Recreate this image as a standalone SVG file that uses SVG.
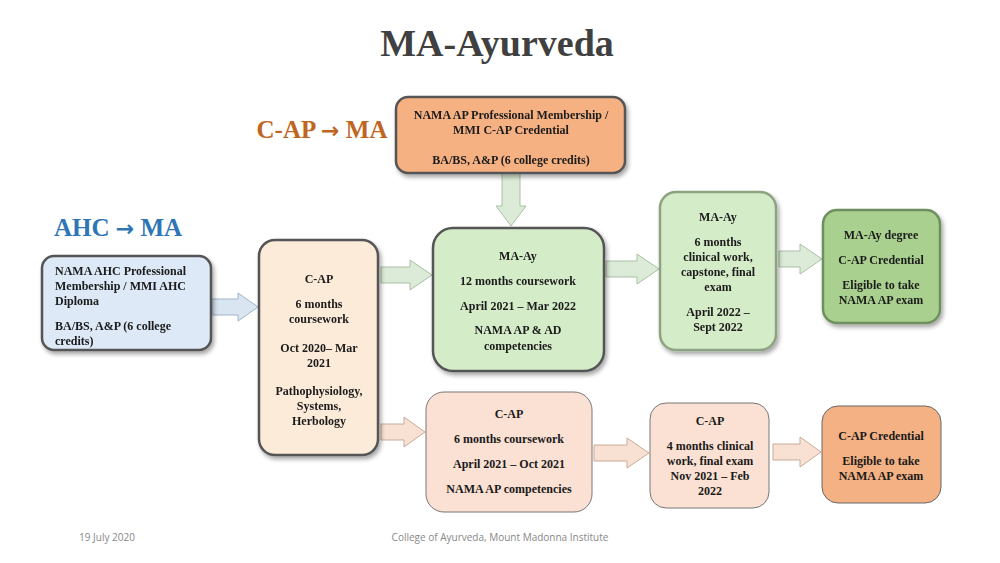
<svg xmlns="http://www.w3.org/2000/svg" width="1000" height="563" viewBox="0 0 1000 563">
<defs>
<style>
.t{font-family:"Liberation Serif",serif;font-weight:bold;font-size:12px;fill:#1a1a1a;text-anchor:middle}
.n{stroke:#555;stroke-width:2.5}
.ar{stroke-width:1}
.arw{font-family:"DejaVu Sans",sans-serif;font-weight:bold}
</style>
<filter id="sh" x="-10%" y="-10%" width="130%" height="130%"><feDropShadow dx="2" dy="3" stdDeviation="2" flood-color="#000" flood-opacity="0.35"/></filter>
</defs>
<rect width="1000" height="563" fill="#fff"/>
<text x="497" y="56" style="font-family:'Liberation Serif',serif;font-weight:bold;font-size:38px;fill:#404040;text-anchor:middle">MA-Ayurveda</text>
<text x="322" y="138" style="font-family:'Liberation Serif',serif;font-weight:bold;font-size:25px;fill:#c0651f;text-anchor:middle">C-AP <tspan class="arw" font-size="22">→</tspan> MA</text>
<text x="118" y="236" style="font-family:'Liberation Serif',serif;font-weight:bold;font-size:25px;fill:#2e75b6;text-anchor:middle">AHC <tspan class="arw" font-size="22">→</tspan> MA</text>

<g id="connectors" class="ar">
<polygon points="212,299 238,299 238,293 258,307 238,321 238,315 212,315" fill="#d9e6f2" stroke="#9fb4c8"/>
<polygon points="381,267 410,267 410,260 432,275 410,290 410,283 381,283" fill="#dcebd8" stroke="#a9c0a2"/>
<polygon points="502,173 520,173 520,206 526,206 511,226 496,206 502,206" fill="#dcebd8" stroke="#a9c0a2"/>
<polygon points="606,261 637,261 637,254 659,269 637,284 637,277 606,277" fill="#dcebd8" stroke="#a9c0a2"/>
<polygon points="779,251 800,251 800,244 822,259 800,274 800,267 779,267" fill="#dcebd8" stroke="#a9c0a2"/>
<polygon points="381,424 404,424 404,417 425,432 404,447 404,440 381,440" fill="#f8e0d2" stroke="#c9aa98"/>
<polygon points="594,445 627,445 627,438 649,453 627,468 627,461 594,461" fill="#f8e0d2" stroke="#c9aa98"/>
<polygon points="773,444 800,444 800,437 821,452 800,467 800,460 773,460" fill="#f8e0d2" stroke="#c9aa98"/>
</g>

<g id="top" filter="url(#sh)"><rect class="n" x="396" y="97" width="229" height="76" rx="12" fill="#f6b183"/>
<text class="t" x="511" y="119">NAMA AP Professional Membership /</text>
<text class="t" x="511" y="134">MMI C-AP Credential</text>
<text class="t" x="511" y="164">BA/BS, A&amp;P (6 college credits)</text></g>

<g id="ahc" filter="url(#sh)"><rect class="n" x="42" y="256" width="169" height="94" rx="12" fill="#dde9f7"/>
<text class="t" x="55" y="275" style="text-anchor:start">NAMA AHC Professional</text>
<text class="t" x="55" y="290" style="text-anchor:start">Membership / MMI AHC</text>
<text class="t" x="55" y="305" style="text-anchor:start">Diploma</text>
<text class="t" x="55" y="330" style="text-anchor:start">BA/BS,  A&amp;P (6 college</text>
<text class="t" x="55" y="345" style="text-anchor:start">credits)</text></g>

<g id="cap1" filter="url(#sh)"><rect class="n" x="259" y="240" width="119" height="215" rx="16" fill="#fdebd9"/>
<text class="t" x="319" y="283">C-AP</text>
<text class="t" x="319" y="308">6 months</text>
<text class="t" x="319" y="323">coursework</text>
<text class="t" x="319" y="352">Oct 2020– Mar</text>
<text class="t" x="319" y="367">2021</text>
<text class="t" x="319" y="395">Pathophysiology,</text>
<text class="t" x="319" y="410">Systems,</text>
<text class="t" x="319" y="425">Herbology</text></g>

<g id="ma12" filter="url(#sh)"><rect class="n" x="433" y="228" width="171" height="143" rx="20" fill="#d5ecc9"/>
<text class="t" x="518" y="260">MA-Ay</text>
<text class="t" x="518" y="285">12 months  coursework</text>
<text class="t" x="518" y="310">April  2021 – Mar 2022</text>
<text class="t" x="518" y="334">NAMA AP &amp; AD</text>
<text class="t" x="518" y="350">competencies</text></g>

<g id="ma6" filter="url(#sh)"><rect class="n" x="660" y="192" width="116" height="158" rx="16" fill="#d5ecc9" style="stroke:#8da382"/>
<text class="t" x="718" y="221">MA-Ay</text>
<text class="t" x="718" y="246">6 months</text>
<text class="t" x="718" y="261">clinical  work,</text>
<text class="t" x="718" y="276">capstone, final</text>
<text class="t" x="718" y="291">exam</text>
<text class="t" x="718" y="316">April  2022 –</text>
<text class="t" x="718" y="331">Sept 2022</text></g>

<g id="madeg" filter="url(#sh)"><rect class="n" x="823" y="210" width="117" height="113" rx="14" fill="#a9d08e" style="stroke:#6e8f5e"/>
<text class="t" x="881" y="239">MA-Ay degree</text>
<text class="t" x="881" y="264">C-AP Credential</text>
<text class="t" x="881" y="289">Eligible  to take</text>
<text class="t" x="881" y="304">NAMA AP exam</text></g>

<g id="cap6"><rect x="426" y="392" width="166" height="120" rx="18" fill="#fbe1d3" stroke="#777" stroke-width="1"/>
<text class="t" x="509" y="418">C-AP</text>
<text class="t" x="509" y="443">6 months  coursework</text>
<text class="t" x="509" y="468">April  2021 – Oct 2021</text>
<text class="t" x="509" y="493">NAMA AP competencies</text></g>

<g id="cap4"><rect x="650" y="403" width="119" height="105" rx="16" fill="#fbe1d3" stroke="#777" stroke-width="1"/>
<text class="t" x="710" y="425">C-AP</text>
<text class="t" x="710" y="450">4 months  clinical</text>
<text class="t" x="710" y="465">work,  final  exam</text>
<text class="t" x="710" y="480">Nov 2021 – Feb</text>
<text class="t" x="710" y="495">2022</text></g>

<g id="capcred"><rect x="822" y="406" width="119" height="97" rx="16" fill="#f4b183" stroke="#666" stroke-width="1"/>
<text class="t" x="881" y="440">C-AP Credential</text>
<text class="t" x="881" y="465">Eligible  to take</text>
<text class="t" x="881" y="480">NAMA AP exam</text></g>

<text x="107" y="541" style="font-family:'Open Sans',sans-serif;font-size:10px;fill:#888;text-anchor:middle">19 July 2020</text>
<text x="500" y="541" style="font-family:'Open Sans',sans-serif;font-size:10px;fill:#888;text-anchor:middle">College of Ayurveda, Mount  Madonna Institute</text>
</svg>
